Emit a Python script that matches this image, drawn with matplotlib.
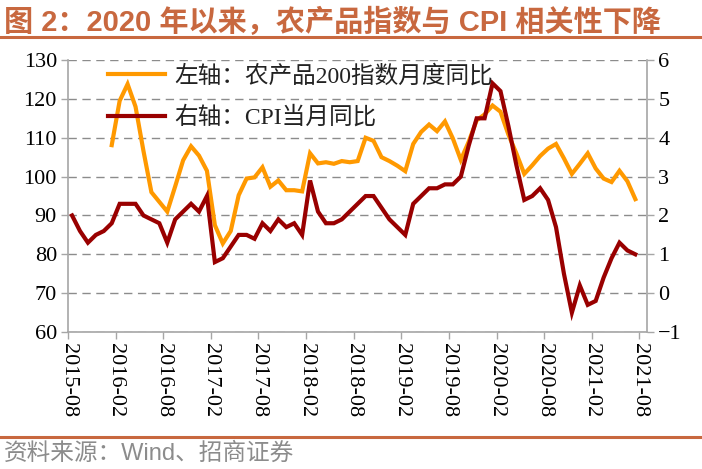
import numpy as np
import pandas as pd
import matplotlib
matplotlib.use('Agg')
import matplotlib.pyplot as plt

# 데이터 (2015-08 ~ 2021-07, 월별)
months = pd.date_range('2015-08-01', '2021-07-01', freq='MS').strftime('%Y-%m').tolist()

cpi = [2.0, 1.6, 1.3, 1.5, 1.6,
       1.8, 2.3, 2.3, 2.3, 2.0, 1.9, 1.8, 1.3, 1.9, 2.1, 2.3, 2.1,
       2.5, 0.8, 0.9, 1.2, 1.5, 1.5, 1.4, 1.8, 1.6, 1.9, 1.7, 1.8,
       1.5, 2.9, 2.1, 1.8, 1.8, 1.9, 2.1, 2.3, 2.5, 2.5, 2.2, 1.9,
       1.7, 1.5, 2.3, 2.5, 2.7, 2.7, 2.8, 2.8, 3.0, 3.8, 4.5, 4.5,
       5.4, 5.2, 4.3, 3.3, 2.4, 2.5, 2.7, 2.4, 1.7, 0.5, -0.5, 0.2,
       -0.3, -0.2, 0.4, 0.9, 1.3, 1.1, 1.0]

# 농산품200지수 (2016-01 부터)
agri = [np.nan] * 5 + [
    108.1, 119.5, 123.8, 118.0, 106.6, 96.0, 93.5, 91.0, 97.5, 104.2,
    107.8, 105.4, 101.5, 87.5, 82.8, 86.0, 95.2, 99.5, 99.8, 102.4,
    97.4, 99.0, 96.5, 96.5, 96.2, 106.0, 103.4, 103.7, 103.3, 104.0,
    103.7, 104.0, 110.0, 109.2, 105.0, 104.0, 102.8, 101.4, 108.4, 111.5,
    113.4, 111.7, 114.2, 109.8, 104.3, 109.0, 114.5, 116.0, 118.3, 116.7,
    110.8, 106.0, 100.7, 102.9, 105.3, 107.2, 108.4, 104.7, 100.7, 103.3,
    106.0, 102.1, 99.5, 98.6, 101.5, 98.8, 94.2]

tick_labels = ['2015-08', '2016-02', '2016-08', '2017-02', '2017-08', '2018-02',
               '2018-08', '2019-02', '2019-08', '2020-02', '2020-08', '2021-02',
               '2021-08']

label_left = '左轴：农产品200指数月度同比'
label_right = '右轴：CPI当月同比'
title = '图 2：2020 年以来，农产品指数与 CPI 相关性下降'
source = '资料来源：Wind、招商证券'

ORANGE = '#FF9900'
DARKRED = '#990000'
TITLE_C = '#C8683F'
GRID_C = '#8C8C8C'
SPINE_C = '#A6A6A6'
SERIF = ['Liberation Serif', 'Noto Sans CJK SC']
SANS = ['Liberation Sans', 'Noto Sans CJK SC']

x = np.arange(len(months)) + 0.5

fig = plt.figure(figsize=(7.02, 4.69), dpi=100)
ax = fig.add_axes([0.097, 0.292, 0.825, 0.580])
ax2 = ax.twinx()

l1, = ax.plot(x, agri, color=ORANGE, lw=3, solid_joinstyle='miter', zorder=3)
l2, = ax2.plot(x, cpi, color=DARKRED, lw=3, solid_joinstyle='miter', zorder=4)

ax.set_xlim(0, 73)
ax.set_ylim(60, 130)
ax.set_yticks(np.arange(60, 131, 10))
ax2.set_ylim(-1, 6)
ax2.set_yticks(np.arange(-1, 7, 1))
ax.set_xticks(np.arange(0, 73, 6))
ax.set_xticklabels(tick_labels, rotation=270, family=SERIF, fontsize=16)

for t in ax.get_yticklabels() + ax2.get_yticklabels():
    t.set_family(SERIF)
    t.set_fontsize(16)

ax.grid(axis='y', color=GRID_C, ls=(0, (6, 4)), lw=1.0)

for a in (ax, ax2):
    a.spines['top'].set_visible(False)
    for s in ('left', 'right', 'bottom'):
        a.spines[s].set_color(SPINE_C)
        a.spines[s].set_linewidth(1.2)
    a.tick_params(colors=SPINE_C, labelcolor='black', width=1.0, length=5, pad=3)
ax.spines['right'].set_visible(False)
ax2.spines['left'].set_visible(False)
ax2.spines['bottom'].set_visible(False)

leg = ax2.legend([l1, l2], [label_left, label_right], loc='upper left',
                 bbox_to_anchor=(0.032, 1.06), frameon=False, handlelength=2.4,
                 handletextpad=0.4, labelspacing=0.8,
                 prop={'family': SERIF, 'size': 17})
for t in leg.get_texts():
    t.set_color('#222222')

fig.text(0.005, 0.953, title, family=SANS, weight='bold', fontsize=21,
         color=TITLE_C, va='center', ha='left')
fig.add_artist(plt.Line2D([0, 1], [0.921, 0.921], color=TITLE_C, lw=2.2))
fig.add_artist(plt.Line2D([0, 1], [0.068, 0.068], color=TITLE_C, lw=2.2))
fig.text(0.005, 0.033, source, family=SANS, fontsize=17, color='#8C8C8C',
         va='center', ha='left')

fig.savefig('out.png', dpi=100)
